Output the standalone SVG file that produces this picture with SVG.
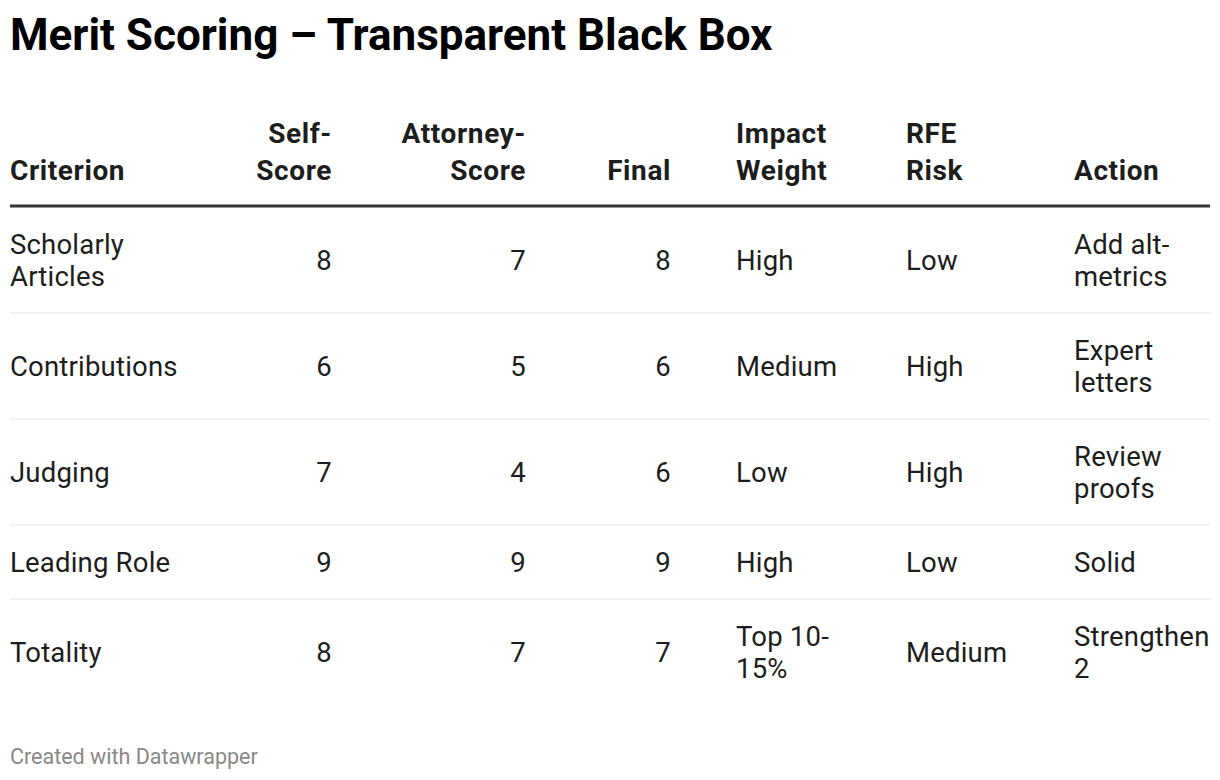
<svg xmlns="http://www.w3.org/2000/svg" width="1220" height="780" viewBox="0 0 1220 780">
<style>
text{font-family:Roboto,"Liberation Sans",sans-serif;fill:#1d1d1d}
.t{font-size:44px;font-weight:700;fill:#000}
.h{font-size:28px;font-weight:700;letter-spacing:0.6px}
.b{font-size:27.5px;letter-spacing:0.2px}
.r{text-anchor:end}
.f{font-size:21.5px;fill:#888}
.sep{stroke:#e3e3e3;stroke-width:1}
</style>
<rect width="1220" height="780" fill="#fff"/>
<text class="t" x="10" y="50">Merit Scoring – Transparent Black Box</text>
<g id="header">
<text class="h" x="10" y="180">Criterion</text>
<text class="h r" x="332" y="143">Self-</text><text class="h r" x="332" y="180">Score</text>
<text class="h r" x="526" y="143">Attorney-</text><text class="h r" x="526" y="180">Score</text>
<text class="h r" x="671" y="180">Final</text>
<text class="h" x="736" y="143">Impact</text><text class="h" x="736" y="180">Weight</text>
<text class="h" x="906" y="143">RFE</text><text class="h" x="906" y="180">Risk</text>
<text class="h" x="1074" y="180">Action</text>
</g>
<g id="lines">
<line x1="10" y1="206" x2="1210" y2="206" stroke="#333" stroke-width="3"/>
<line class="sep" x1="10" y1="313" x2="1210" y2="313"/>
<line class="sep" x1="10" y1="419" x2="1210" y2="419"/>
<line class="sep" x1="10" y1="525" x2="1210" y2="525"/>
<line class="sep" x1="10" y1="599" x2="1210" y2="599"/>
</g>
<g id="row1">
<text class="b" x="10" y="254">Scholarly</text><text class="b" x="10" y="286">Articles</text>
<text class="b r" x="332" y="270">8</text><text class="b r" x="526" y="270">7</text><text class="b r" x="671" y="270">8</text>
<text class="b" x="736" y="270">High</text><text class="b" x="906" y="270">Low</text>
<text class="b" x="1074" y="254">Add alt-</text><text class="b" x="1074" y="286">metrics</text>
</g>
<g id="row2">
<text class="b" x="10" y="376">Contributions</text>
<text class="b r" x="332" y="376">6</text><text class="b r" x="526" y="376">5</text><text class="b r" x="671" y="376">6</text>
<text class="b" x="736" y="376">Medium</text><text class="b" x="906" y="376">High</text>
<text class="b" x="1074" y="360">Expert</text><text class="b" x="1074" y="392">letters</text>
</g>
<g id="row3">
<text class="b" x="10" y="482">Judging</text>
<text class="b r" x="332" y="482">7</text><text class="b r" x="526" y="482">4</text><text class="b r" x="671" y="482">6</text>
<text class="b" x="736" y="482">Low</text><text class="b" x="906" y="482">High</text>
<text class="b" x="1074" y="466">Review</text><text class="b" x="1074" y="498">proofs</text>
</g>
<g id="row4">
<text class="b" x="10" y="572">Leading Role</text>
<text class="b r" x="332" y="572">9</text><text class="b r" x="526" y="572">9</text><text class="b r" x="671" y="572">9</text>
<text class="b" x="736" y="572">High</text><text class="b" x="906" y="572">Low</text>
<text class="b" x="1074" y="572">Solid</text>
</g>
<g id="row5">
<text class="b" x="10" y="662">Totality</text>
<text class="b r" x="332" y="662">8</text><text class="b r" x="526" y="662">7</text><text class="b r" x="671" y="662">7</text>
<text class="b" x="736" y="646">Top 10-</text><text class="b" x="736" y="678">15%</text>
<text class="b" x="906" y="662">Medium</text>
<text class="b" x="1074" y="646">Strengthen</text><text class="b" x="1074" y="678">2</text>
</g>
<text class="f" x="10" y="764">Created with Datawrapper</text>
</svg>
